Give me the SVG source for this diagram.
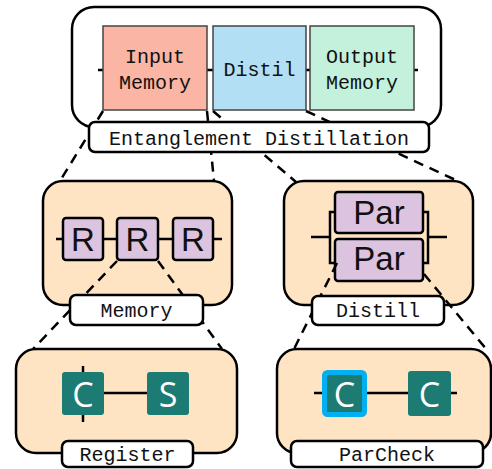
<svg xmlns="http://www.w3.org/2000/svg" width="492" height="469" viewBox="0 0 492 469">
<style>
.cont{fill:#ffe4c4;stroke:#000;stroke-width:2.5}
.top{fill:#fff;stroke:#000;stroke-width:2.5}
.lbl{fill:#fff;stroke:#000;stroke-width:2.5}
.mono{font-family:"Liberation Mono","DejaVu Sans Mono",monospace;font-size:20px;fill:#111;text-anchor:middle}
.sans{font-family:"Liberation Sans",Arial,sans-serif;font-size:33px;fill:#111;text-anchor:middle}
.wsans{font-family:"Open Sans","Noto Sans",sans-serif;font-size:34px;fill:#fff;text-anchor:middle}
.wire{stroke:#000;stroke-width:2.5;fill:none}
.purp{fill:#dcc4e0;stroke:#000;stroke-width:2.5}
.teal{fill:#1c7b73}
.dash{stroke:#000;stroke-width:2.5;stroke-dasharray:10 7;fill:none}
.box{stroke:#444;stroke-width:1.5}
</style>

<g id="entanglement-distillation">
  <rect class="top" x="72" y="7" width="369" height="120" rx="22"/>
  <line class="wire" x1="98" y1="70" x2="418" y2="70"/>
  <rect class="box" x="103" y="26" width="104" height="84" fill="#fbb5a4"/>
  <rect class="box" x="213" y="26" width="93" height="84" fill="#b3dff5"/>
  <rect class="box" x="310" y="26" width="104" height="84" fill="#c3f1dc"/>
  <text class="mono" x="155" y="63">Input</text>
  <text class="mono" x="155" y="89">Memory</text>
  <text class="mono" x="259.5" y="76">Distil</text>
  <text class="mono" x="362" y="63">Output</text>
  <text class="mono" x="362" y="89">Memory</text>
</g>

<g id="memory">
  <rect class="cont" x="43" y="181" width="189" height="124" rx="20"/>
  <line class="wire" x1="56" y1="239" x2="222" y2="239"/>
  <rect class="purp" x="63" y="218" width="40" height="42" rx="3"/>
  <rect class="purp" x="117" y="218" width="41" height="42" rx="3"/>
  <rect class="purp" x="173" y="218" width="40" height="42" rx="3"/>
  <text class="sans" x="83" y="251">R</text>
  <text class="sans" x="137.5" y="251">R</text>
  <text class="sans" x="193" y="251">R</text>
</g>

<g id="distill">
  <rect class="cont" x="284" y="181" width="189" height="124" rx="20"/>
  <path class="wire" d="M311,237 H330 M335,212 H330 V263 H335 M447,237 H428 M423,212 H428 V263 H423"/>
  <rect class="purp" x="335" y="192" width="88" height="41" rx="3"/>
  <rect class="purp" x="335" y="239" width="88" height="42" rx="3"/>
  <text class="sans" x="379" y="224" font-size="31">Par</text>
  <text class="sans" x="379" y="270" font-size="31">Par</text>
</g>

<g id="register">
  <rect class="cont" x="16" y="349" width="221" height="104" rx="20"/>
  <line class="wire" x1="83" y1="366" x2="83" y2="422"/>
  <line class="wire" x1="104" y1="393" x2="147" y2="393"/>
  <rect class="teal" x="62" y="372" width="42" height="43" rx="3"/>
  <rect class="teal" x="147" y="372" width="42" height="43" rx="3"/>
  <text class="wsans" x="83" y="407">C</text>
  <text class="wsans" x="168" y="407">S</text>
</g>

<g id="parcheck">
  <rect class="cont" x="277" y="349" width="214" height="104" rx="20"/>
  <line class="wire" x1="314" y1="393" x2="457" y2="393"/>
  <rect class="teal" x="324.5" y="372.5" width="40" height="42" rx="3" stroke="#00b0f0" stroke-width="5"/>
  <rect class="teal" x="408" y="371" width="43" height="45" rx="3"/>
  <text class="wsans" x="344.5" y="407">C</text>
  <text class="wsans" x="429.5" y="407">C</text>
</g>

<g id="connectors">
  <line class="dash" x1="103" y1="111" x2="60" y2="181"/>
  <line class="dash" x1="207" y1="111" x2="214" y2="181"/>
  <line class="dash" x1="213" y1="111" x2="296" y2="182"/>
  <line class="dash" x1="306" y1="111" x2="460" y2="182"/>
  <line class="dash" x1="117" y1="261" x2="33" y2="349"/>
  <line class="dash" x1="158" y1="261" x2="222" y2="349"/>
  <line class="dash" x1="337" y1="263" x2="294" y2="349"/>
  <line class="dash" x1="424" y1="274" x2="487" y2="350"/>
</g>

<g id="labels">
  <g id="label-entanglement">
    <rect class="lbl" x="89" y="122" width="340" height="30" rx="6"/>
    <text class="mono" x="259" y="145">Entanglement Distillation</text>
  </g>
  <g id="label-memory">
    <rect class="lbl" x="70" y="295" width="133" height="30" rx="6"/>
    <text class="mono" x="136.5" y="317">Memory</text>
  </g>
  <g id="label-distill">
    <rect class="lbl" x="312" y="296" width="132" height="29" rx="6"/>
    <text class="mono" x="378" y="317">Distill</text>
  </g>
  <g id="label-register">
    <rect class="lbl" x="62" y="441" width="131" height="26" rx="6"/>
    <text class="mono" x="127.5" y="461">Register</text>
  </g>
  <g id="label-parcheck">
    <rect class="lbl" x="291" y="441" width="192" height="26" rx="6"/>
    <text class="mono" x="387" y="461">ParCheck</text>
  </g>
</g>
</svg>
